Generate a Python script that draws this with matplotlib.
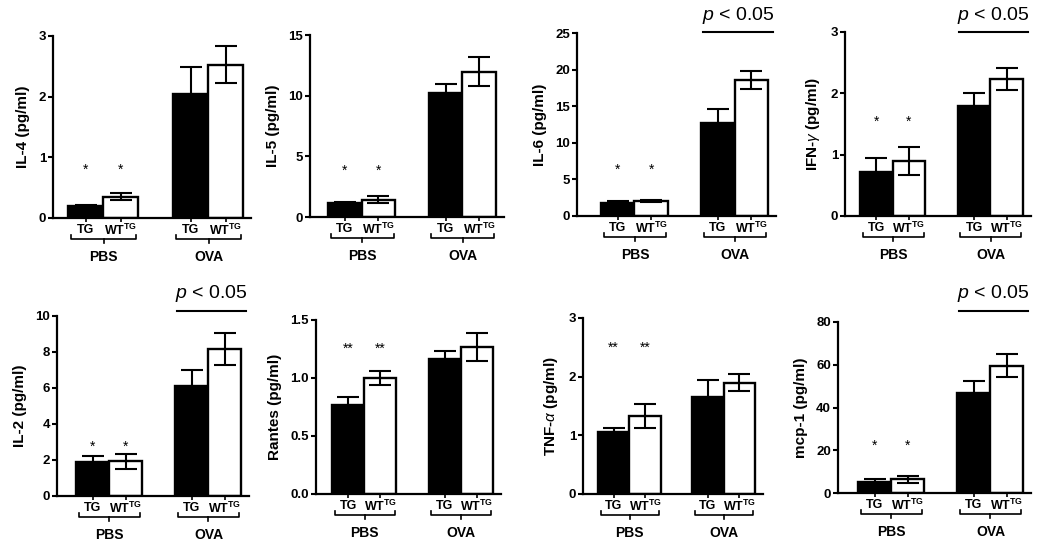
import matplotlib
matplotlib.use("Agg")
import matplotlib.pyplot as plt
import numpy as np

plt.rcParams['font.family'] = ['Liberation Sans', 'DejaVu Sans']
plt.rcParams['mathtext.fontset'] = 'custom'
plt.rcParams['mathtext.rm'] = 'Liberation Sans:bold'
plt.rcParams['mathtext.bf'] = 'Liberation Sans:bold'
plt.rcParams['mathtext.it'] = 'Liberation Sans:italic'

# ---- data ----
cytokines = ["IL-4", "IL-5", "IL-6", "IFN-γ", "IL-2", "Rantes", "TNF-α", "mcp-1"]
ylabels = ["IL-4 (pg/ml)", "IL-5 (pg/ml)", "IL-6 (pg/ml)", r"IFN-$\mathit{\gamma}$ (pg/ml)",
           "IL-2 (pg/ml)", "Rantes (pg/ml)", r"TNF-$\mathit{\alpha}$ (pg/ml)", "mcp-1 (pg/ml)"]
groups = ["PBS", "OVA"]
strains = ["TG", r"WT$^{\mathbf{TG}}$"]

tg_pbs = [0.20, 1.18, 1.80, 0.71, 1.87, 0.77, 1.06, 5.1]
tg_pbs_err = [0.01, 0.05, 0.25, 0.23, 0.37, 0.07, 0.07, 1.6]
wt_pbs = [0.35, 1.43, 2.05, 0.90, 1.94, 1.00, 1.33, 6.4]
wt_pbs_err = [0.06, 0.28, 0.20, 0.23, 0.42, 0.06, 0.21, 1.7]
tg_ova = [2.04, 10.24, 12.68, 1.80, 6.13, 1.164, 1.66, 46.6]
tg_ova_err = [0.45, 0.70, 1.90, 0.21, 0.87, 0.07, 0.28, 5.7]
wt_ova = [2.53, 11.97, 18.61, 2.23, 8.17, 1.27, 1.90, 59.5]
wt_ova_err = [0.30, 1.20, 1.25, 0.18, 0.90, 0.12, 0.15, 5.3]

ymax = [3, 15, 25, 3, 10, 1.5, 3, 80]
ystep = [1, 5, 5, 1, 2, 0.5, 1, 20]
ytick_fmt = ["{:.0f}"] * 5 + ["{:.1f}"] + ["{:.0f}"] * 2
star_text = ["*", "*", "*", "*", "*", "**", "**", "*"]
star_y = [0.79, 3.85, 6.3, 1.53, 2.74, 1.256, 2.49, 22.2]
p_sig = [False, False, True, True, True, False, False, True]

# ---- layout (pixel geometry) ----
W, H = 1050, 548
# axis_x, first bar left, last bar right, top, bottom
geom = [
    (53, 68, 243, 36, 218),
    (310, 328, 496, 35, 217),
    (577, 601, 768, 33, 216),
    (845, 860, 1023, 32, 216),
    (57, 76, 241, 316, 496),
    (316, 332, 493, 320, 494),
    (583, 598, 755, 318, 494),
    (838, 858, 1023, 322, 493),
]
pline_y = [32, 32, 32, 32, 311, 311, 311, 311]

fig = plt.figure(figsize=(W / 100, H / 100), dpi=100)

xpos = np.array([0, 1, 3, 4])
for i in range(8):
    ax_x, bl, br, top, bot = geom[i]
    unit = (br - bl) / 5.0
    right = br + 8
    x0 = -0.5 - (bl - ax_x) / unit
    x1 = 4.5 + (right - br) / unit
    ah = bot - top
    ax = fig.add_axes([ax_x / W, 1 - bot / H, (right - ax_x) / W, ah / H])
    vals = [tg_pbs[i], wt_pbs[i], tg_ova[i], wt_ova[i]]
    errs = [tg_pbs_err[i], wt_pbs_err[i], tg_ova_err[i], wt_ova_err[i]]
    cols = ["black", "white", "black", "white"]
    ax.bar(xpos, vals, width=1.0, color=cols, edgecolor="black", linewidth=1.7, zorder=2)
    ax.errorbar(xpos, vals, yerr=errs, fmt="none", ecolor="black", elinewidth=1.5,
                capsize=8, capthick=1.5, zorder=3)
    ax.set_xlim(x0, x1)
    ax.set_ylim(0, ymax[i])
    ticks = np.arange(0, ymax[i] + ystep[i] / 2, ystep[i])
    ax.set_yticks(ticks)
    ax.set_yticklabels([ytick_fmt[i].format(t) for t in ticks], fontsize=9.5, fontweight="bold")
    ax.set_xticks(xpos)
    ax.set_xticklabels([])
    for s in ["top", "right"]:
        ax.spines[s].set_visible(False)
    for s in ["left", "bottom"]:
        ax.spines[s].set_linewidth(1.6)
    ax.tick_params(axis="y", length=3.5, width=1.5, pad=1.5)
    ax.tick_params(axis="x", length=3, width=1.2)
    ax.set_ylabel(ylabels[i], fontsize=11, fontweight="bold", labelpad=6)
    ax.patch.set_alpha(0)

    # significance stars
    for xs in (0, 1):
        ax.text(xs, star_y[i], star_text[i], ha="center", va="center", fontsize=10,
                transform=ax.transData)

    # group labels under axis
    tb = ax.get_xaxis_transform()
    def fy(px):
        return -px / ah
    for g, gx in enumerate([0, 3]):
        for k in range(2):
            ax.text(gx + k, fy(12), strains[k], ha="center", va="center", fontsize=9,
                    fontweight="bold", transform=tb)
        bx0, bx1 = gx - 0.42, gx + 1.45
        bm = (bx0 + bx1) / 2
        ax.plot([bx0, bx0, bx1, bx1], [fy(17), fy(21), fy(21), fy(17)], color="black",
                lw=1.2, transform=tb, clip_on=False)
        ax.plot([bm, bm], [fy(21), fy(25)], color="black", lw=1.2, transform=tb, clip_on=False)
        ax.text(bm, fy(39), groups[g], ha="center", va="center", fontsize=10,
                fontweight="bold", transform=tb)

    if p_sig[i]:
        ly = (bot - pline_y[i]) / ah
        ax.plot([2.55, 4.65], [ly, ly], color="black", lw=1.5, transform=tb, clip_on=False)
        ax.text(3.6, ly + 17 / ah, r"$p$ < 0.05", ha="center", va="center",
                fontsize=14, fontweight="normal", transform=tb)

fig.savefig("out.png", dpi=100)
